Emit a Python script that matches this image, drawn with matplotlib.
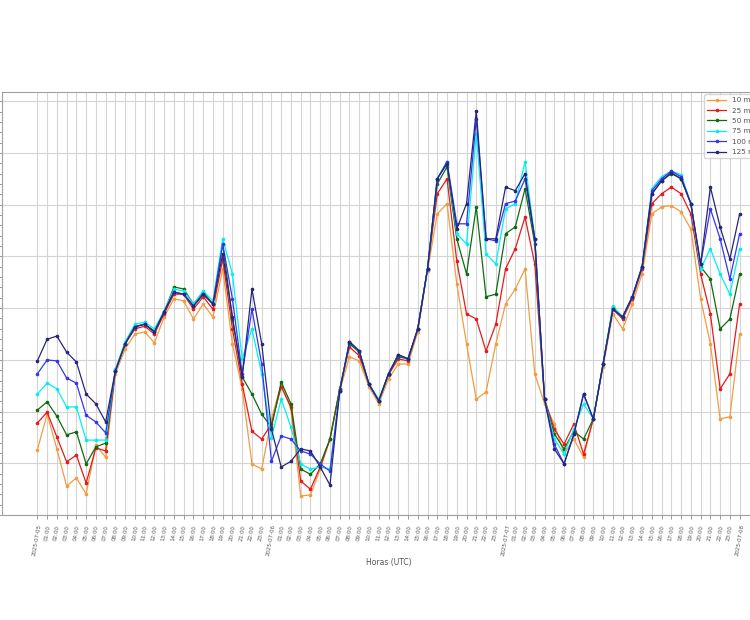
import matplotlib
matplotlib.use("Agg")
import matplotlib.pyplot as plt
import matplotlib.dates as mdates
from matplotlib.ticker import MultipleLocator, AutoMinorLocator, FuncFormatter
import pandas as pd

times = pd.date_range("2025-07-05 00:00", "2025-07-08 00:00", freq="h")

heights = ["10 m", "25 m", "50 m", "75 m", "100 m", "125 m"]
colors = ["#f39c40", "#e8191c", "#0f6b0f", "#00f0f0", "#3636f0", "#26267a"]

v10 = [1.26, 1.95, 1.28, 0.56, 0.72, 0.41, 1.35, 1.12, 2.73, 3.21, 3.50, 3.54, 3.33, 3.83, 4.18, 4.14, 3.79, 4.08, 3.83, 4.76,
       3.31, 2.44, 0.99, 0.89, 1.86, 2.53, 2.05, 0.37, 0.39, 0.89, 1.47, 2.40, 3.06, 2.98, 2.48, 2.15, 2.63, 2.92, 2.92, 3.54,
       4.72, 5.82, 6.02, 4.47, 3.31, 2.24, 2.38, 3.31, 4.08, 4.37, 4.76, 2.73, 2.15, 1.76, 1.18, 1.47, 1.12, 1.86, 2.86, 3.89,
       3.60, 4.08, 4.66, 5.82, 5.96, 5.98, 5.86, 5.53, 4.18, 3.31, 1.86, 1.90, 3.50]
v25 = [1.78, 1.99, 1.51, 1.03, 1.16, 0.62, 1.30, 1.24, 2.79, 3.31, 3.60, 3.65, 3.50, 3.89, 4.27, 4.27, 3.98, 4.22, 3.98, 4.95,
       3.60, 2.53, 1.62, 1.47, 1.76, 2.48, 2.09, 0.66, 0.50, 0.93, 1.47, 2.44, 3.25, 3.08, 2.53, 2.21, 2.71, 3.02, 2.98, 3.60,
       4.76, 6.21, 6.50, 4.91, 3.89, 3.79, 3.17, 3.69, 4.76, 5.15, 5.76, 4.85, 2.24, 1.66, 1.37, 1.76, 1.18, 1.86, 2.92, 3.98,
       3.79, 4.18, 4.76, 6.02, 6.21, 6.34, 6.21, 5.82, 4.66, 3.89, 2.44, 2.73, 4.08]
v50 = [2.03, 2.19, 1.91, 1.55, 1.61, 0.99, 1.32, 1.39, 2.79, 3.31, 3.64, 3.69, 3.56, 3.93, 4.41, 4.37, 4.08, 4.31, 4.08, 5.24,
       3.79, 2.67, 2.34, 1.95, 1.70, 2.57, 2.15, 0.89, 0.79, 0.99, 1.47, 2.44, 3.31, 3.15, 2.53, 2.21, 2.73, 3.06, 3.02, 3.60,
       4.76, 6.40, 6.73, 5.34, 4.66, 5.96, 4.22, 4.27, 5.44, 5.57, 6.31, 5.24, 2.24, 1.57, 1.28, 1.62, 1.47, 1.86, 2.92, 4.02,
       3.83, 4.22, 4.80, 6.21, 6.46, 6.60, 6.50, 6.02, 4.80, 4.56, 3.60, 3.79, 4.66]
v75 = [2.34, 2.55, 2.44, 2.09, 2.09, 1.45, 1.45, 1.45, 2.82, 3.35, 3.69, 3.73, 3.60, 3.95, 4.37, 4.33, 4.08, 4.33, 4.14, 5.34,
       4.66, 3.02, 3.60, 2.73, 1.50, 2.24, 1.70, 0.99, 0.89, 0.93, 0.89, 2.40, 3.35, 3.17, 2.53, 2.24, 2.73, 3.10, 3.02, 3.60,
       4.76, 6.50, 6.83, 5.44, 5.24, 7.37, 5.05, 4.85, 5.92, 6.02, 6.83, 5.34, 2.24, 1.47, 1.18, 1.66, 2.15, 1.86, 2.92, 4.04,
       3.83, 4.22, 4.80, 6.31, 6.54, 6.65, 6.58, 6.02, 4.76, 5.15, 4.66, 4.27, 5.15]
v100 = [2.73, 3.00, 2.98, 2.65, 2.55, 1.93, 1.80, 1.59, 2.79, 3.31, 3.64, 3.69, 3.54, 3.93, 4.31, 4.27, 4.04, 4.27, 4.08, 5.24,
        4.18, 2.73, 3.98, 2.92, 1.04, 1.53, 1.47, 1.24, 1.18, 0.99, 0.85, 2.40, 3.35, 3.17, 2.53, 2.21, 2.73, 3.10, 3.02, 3.60,
        4.76, 6.50, 6.83, 5.63, 5.63, 7.66, 5.34, 5.30, 6.02, 6.07, 6.50, 5.34, 2.24, 1.37, 0.99, 1.56, 2.34, 1.86, 2.92, 3.98,
        3.83, 4.22, 4.80, 6.27, 6.50, 6.65, 6.54, 6.02, 4.85, 5.92, 5.34, 4.56, 5.44]
v125 = [2.98, 3.40, 3.46, 3.15, 2.96, 2.34, 2.15, 1.80, 2.79, 3.31, 3.64, 3.69, 3.54, 3.93, 4.31, 4.27, 4.04, 4.27, 4.08, 5.05,
        3.83, 2.67, 4.37, 3.31, 1.66, 0.93, 1.04, 1.28, 1.24, 0.93, 0.58, 2.40, 3.35, 3.17, 2.53, 2.21, 2.73, 3.10, 3.02, 3.60,
        4.76, 6.50, 6.79, 5.53, 6.02, 7.81, 5.34, 5.34, 6.34, 6.27, 6.60, 5.34, 2.24, 1.28, 0.99, 1.56, 2.34, 1.86, 2.92, 3.98,
        3.83, 4.22, 4.80, 6.21, 6.46, 6.62, 6.50, 6.02, 4.85, 6.34, 5.57, 4.95, 5.82]

series = [v10, v25, v50, v75, v100, v125]

fig = plt.figure(figsize=(7.5, 6.2), dpi=100)
ax = fig.add_axes([0.003, 0.169, 1.030, 0.683])

for name, vals, col in zip(heights, series, colors):
    ax.plot(times, vals, color=col, lw=0.9, marker="o", ms=1.6, label=name)

ax.set_xticks(times)

def fmt(x, pos):
    d = mdates.num2date(x)
    if d.hour == 0:
        return d.strftime("%Y-%m-%d")
    return d.strftime("%H:%M")

ax.xaxis.set_major_formatter(FuncFormatter(fmt))
ax.yaxis.set_major_locator(MultipleLocator(1))
ax.yaxis.set_minor_locator(AutoMinorLocator(5))
ax.tick_params(axis="x", labelsize=4, labelrotation=80, colors="#888", labelcolor="#555", length=3, width=0.6)
ax.tick_params(axis="y", which="both", colors="#888", labelsize=5, width=0.6)
ax.tick_params(axis="y", which="minor", length=2)
ax.grid(True, color="#d4d4d4", lw=0.8)
for s in ax.spines.values():
    s.set_color("#a0a0a0")
    s.set_linewidth(0.8)
ax.set_xlabel("Horas (UTC)", fontsize=5.5, color="#555", labelpad=1)
leg = ax.legend(loc="upper left", bbox_to_anchor=(0.939, 0.848), bbox_transform=fig.transFigure,
                borderaxespad=0, fontsize=5.2, frameon=True, handlelength=2.6, labelspacing=0.6,
                labelcolor="#555")
leg.get_frame().set_edgecolor("#cccccc")
fig.savefig("out.png", dpi=100)
